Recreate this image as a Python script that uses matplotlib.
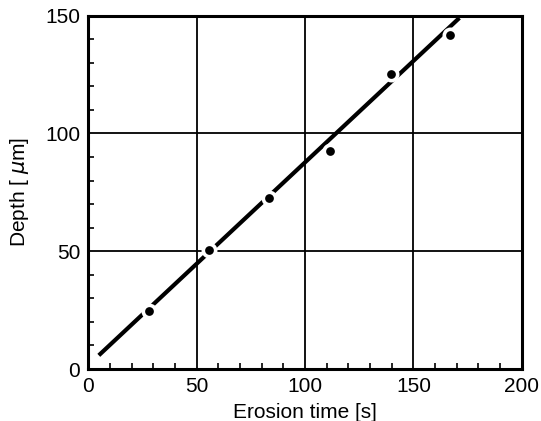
import matplotlib
matplotlib.use("Agg")
import matplotlib.pyplot as plt
from matplotlib.ticker import MultipleLocator

# Data
erosion_time = [28.0, 55.5, 83.3, 111.5, 139.5, 166.9]
depth = [24.6, 50.4, 72.5, 92.4, 125.4, 141.9]
fit_x = [4.8, 171.2]
fit_y = [5.8, 149.0]
x_ticks = [0, 50, 100, 150, 200]
y_ticks = [0, 50, 100, 150]

plt.rcParams['font.family'] = ['Liberation Sans', 'DejaVu Sans']

fig = plt.figure(figsize=(5.41, 4.21), dpi=100)
ax = fig.add_axes([0.1634, 0.1235, 0.8011, 0.8395])

ax.plot(fit_x, fit_y, color='black', lw=3.0, solid_capstyle='butt', zorder=3)
# white halo that breaks the line around each point
ax.plot(erosion_time, depth, 'o', color='white', markersize=11.5,
        markeredgewidth=0, zorder=4)
ax.plot(erosion_time, depth, 'o', color='black', markersize=6.3,
        markeredgewidth=0, zorder=5)

ax.set_xlim(0, 200)
ax.set_ylim(0, 150)
ax.set_xticks(x_ticks)
ax.set_yticks(y_ticks)
ax.xaxis.set_minor_locator(MultipleLocator(10))
ax.yaxis.set_minor_locator(MultipleLocator(10))
ax.grid(True, which='major', color='black', lw=1.3, zorder=1)
ax.tick_params(which='major', length=0, pad=6, labelsize=15)
ax.tick_params(which='minor', direction='in', length=4, width=1.2, color='black')
for s in ax.spines.values():
    s.set_linewidth(2.2)
    s.set_zorder(6)

ax.set_xlabel('Erosion time [s]', fontsize=15, labelpad=5)
ax.set_ylabel('Depth [ $\\mu$m]', fontsize=15, labelpad=10)

fig.savefig('out.png', dpi=100)
